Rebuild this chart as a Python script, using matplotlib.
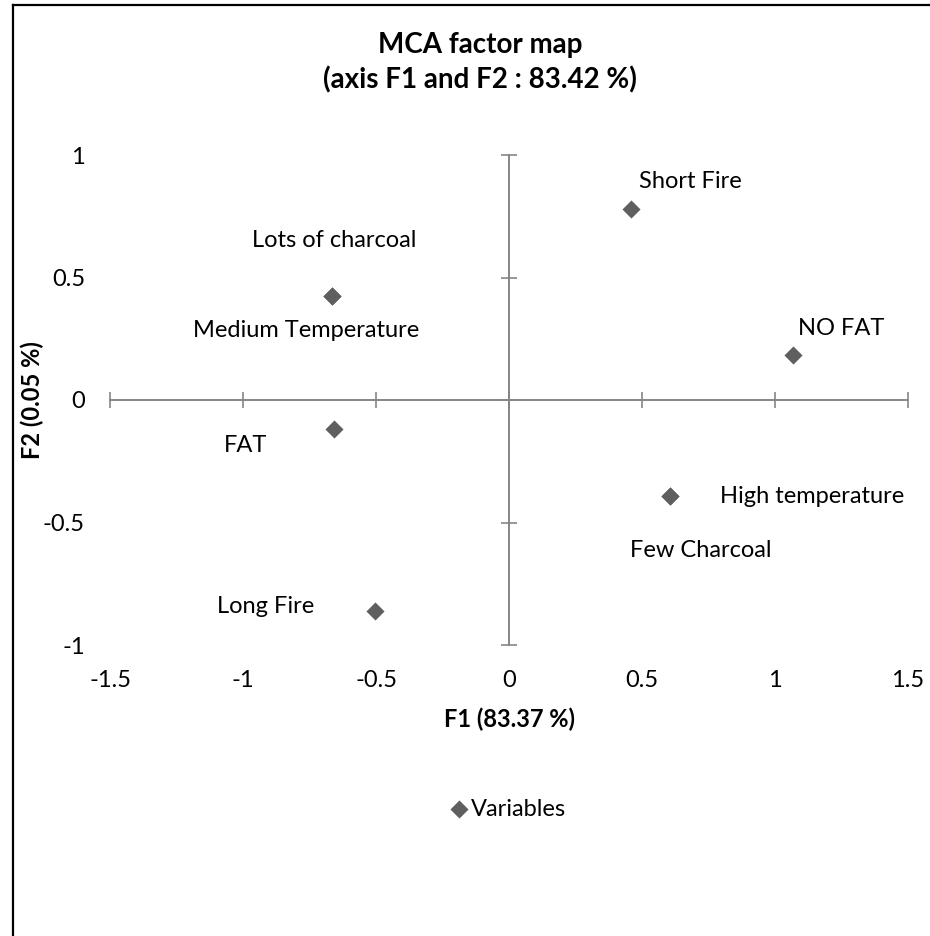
import matplotlib
matplotlib.use("Agg")
import matplotlib.pyplot as plt
from matplotlib.lines import Line2D

# MCA coordinates of the variable categories
categories = ["Lots of charcoal", "Medium Temperature", "FAT", "Long Fire",
              "Short Fire", "NO FAT", "High temperature", "Few Charcoal"]
f1 = [-0.664, -0.664, -0.658, -0.503, 0.459, 1.069, 0.605, 0.605]
f2 = [0.426, 0.426, -0.117, -0.861, 0.778, 0.182, -0.390, -0.390]

x_ticks = [-1.5, -1, -0.5, 0, 0.5, 1, 1.5]
y_ticks = [-1, -0.5, 0, 0.5, 1]
x_tick_labels = ["-1.5", "-1", "-0.5", "0", "0.5", "1", "1.5"]
y_tick_labels = ["-1", "-0.5", "0", "0.5", "1"]

# label offsets in points (how the labels were dragged around in the original)
label_offsets = [(1.4, 39.6), (-18.7, -25.2), (-64, -12.2), (-79.2, 2.9),
                 (42.5, 20.2), (34.6, 19.4), (102.2, -0.7), (22.3, -39.6)]

plt.rcParams['font.family'] = ['Lato', 'DejaVu Sans']
FS = 17
GRID = '#868686'
MARK = '#5f5f5f'

fig = plt.figure(figsize=(9.3, 9.36), dpi=100)
ax = fig.add_axes([110 / 930, 1 - 645 / 936, 798 / 930, 490 / 936])

ax.scatter(f1, f2, marker='D', s=85, color=MARK, linewidths=0, zorder=3,
           label='Variables')
for name, x, y, off in zip(categories, f1, f2, label_offsets):
    ax.annotate(name, (x, y), xytext=off, textcoords='offset points',
                ha='center', va='center', fontsize=FS)

ax.set_xlim(-1.5, 1.5)
ax.set_ylim(-1, 1)

# axes crossing at the origin
for side in ['top', 'right']:
    ax.spines[side].set_visible(False)
ax.spines['left'].set_position(('data', 0))
ax.spines['bottom'].set_position(('data', 0))
for side in ['left', 'bottom']:
    ax.spines[side].set_color(GRID)
    ax.spines[side].set_linewidth(1.4)
ax.set_xticks(x_ticks)
ax.set_yticks(y_ticks)
ax.tick_params(direction='inout', length=11, width=1.2, color=GRID,
               labelbottom=False, labelleft=False)

# tick labels sit at the low end of the plot area
secx = ax.secondary_xaxis('bottom')
secx.set_xticks(x_ticks, x_tick_labels)
secx.spines['bottom'].set_visible(False)
secx.tick_params(length=0, pad=18, labelsize=FS)
secx.set_xlabel('F1 (83.37 %)', fontsize=FS, fontweight='bold', labelpad=12)

secy = ax.secondary_yaxis('left')
secy.set_yticks(y_ticks, y_tick_labels)
secy.spines['left'].set_visible(False)
secy.tick_params(length=0, pad=18, labelsize=FS)
secy.set_ylabel('F2 (0.05 %)', fontsize=FS, fontweight='bold', labelpad=-1)

fig.text(480 / 930, 1 - 53 / 936, 'MCA factor map', ha='center', va='baseline',
         fontsize=20, fontweight='bold')
fig.text(480 / 930, 1 - 88 / 936, '(axis F1 and F2 : 83.42 %)', ha='center',
         va='baseline', fontsize=20, fontweight='bold')

fig.legend(loc='center', bbox_to_anchor=(510 / 930, 1 - 809 / 936), frameon=False,
           fontsize=FS, scatterpoints=1, handlelength=0.5, handletextpad=0.25,
           markerscale=1.0)

# chart frame: only the left and top edges fall inside the picture
bx, by = 13 / 930, 1 - 5 / 936
fig.lines.append(Line2D([bx, bx], [0, by], transform=fig.transFigure,
                        color='black', linewidth=1.6))
fig.lines.append(Line2D([bx, 1], [by, by], transform=fig.transFigure,
                        color='black', linewidth=1.6))

fig.savefig('out.png', dpi=100)
